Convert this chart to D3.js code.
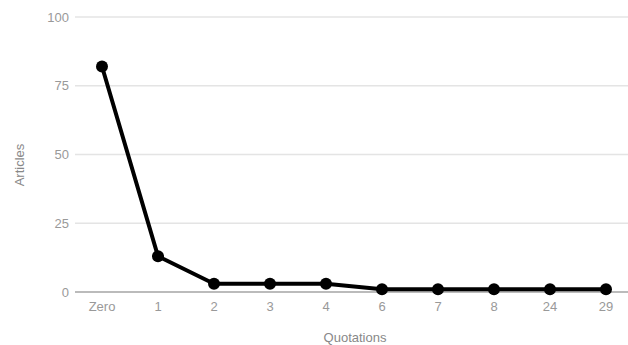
<!DOCTYPE html>
<html><head><meta charset="utf-8">
<script src="https://cdn.jsdelivr.net/npm/d3@7"></script>
<style>body{margin:0;background:#fff;}svg{display:block;font-family:Arial,"Liberation Sans",sans-serif;}</style>
</head><body><svg id="c" width="628" height="345"></svg>
<script>
const categories = ["Zero","1","2","3","4","6","7","8","24","29"];
const articles = [82,13,3,3,3,1,1,1,1,1];
const yTicks = [0,25,50,75,100];

const svg = d3.select("#c");
const x = d3.scaleBand().domain(categories).range([74,634]);
const y = d3.scaleLinear().domain([0,100]).range([292,17]);

svg.append("g").selectAll("line").data(yTicks).join("line")
  .attr("x1",75).attr("x2",628)
  .attr("y1",d=>y(d)).attr("y2",d=>y(d))
  .attr("stroke",d=>d===0?"#bbb":"#e4e4e4").attr("stroke-width",d=>d===0?2:1.5);

svg.append("g").selectAll("text").data(yTicks).join("text")
  .attr("x",69).attr("y",d=>y(d)+4.5).attr("text-anchor","end")
  .attr("font-size",13).attr("fill","#999").text(d=>d);

svg.append("g").selectAll("text").data(categories).join("text")
  .attr("x",d=>x(d)+x.bandwidth()/2).attr("y",311).attr("text-anchor","middle")
  .attr("font-size",13).attr("fill","#999").text(d=>d);

const pts = categories.map((c,i)=>({c,v:articles[i]}));
svg.append("path").datum(pts)
  .attr("d",d3.line().x(d=>x(d.c)+x.bandwidth()/2).y(d=>y(d.v)))
  .attr("fill","none").attr("stroke","#000").attr("stroke-width",4).attr("stroke-linejoin","round");
svg.append("g").selectAll("circle").data(pts).join("circle")
  .attr("cx",d=>x(d.c)+x.bandwidth()/2).attr("cy",d=>y(d.v)).attr("r",6).attr("fill","#000");

svg.append("text").attr("x",355).attr("y",342).attr("text-anchor","middle")
  .attr("font-size",13).attr("fill","#888").text("Quotations");
svg.append("text").attr("transform","translate(24,165) rotate(-90)").attr("text-anchor","middle")
  .attr("font-size",13).attr("fill","#888").text("Articles");
</script></body></html>
